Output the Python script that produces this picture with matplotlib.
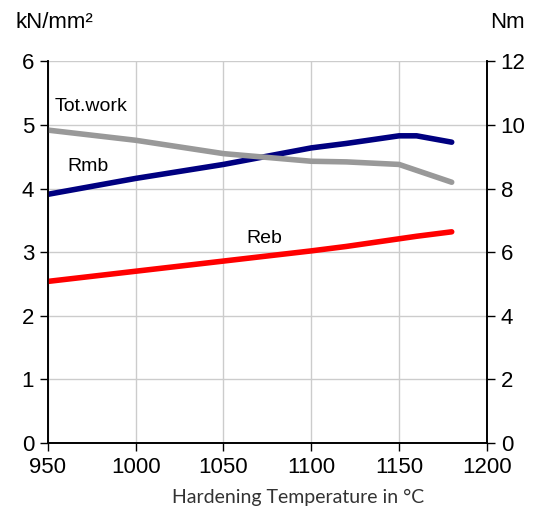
import matplotlib
matplotlib.use("Agg")
import matplotlib.pyplot as plt

# hardening temperature (C)
temps = [950, 1000, 1050, 1100, 1120, 1150, 1160, 1180]
rmb = [3.91, 4.16, 4.38, 4.64, 4.71, 4.83, 4.83, 4.73]          # kN/mm2
reb = [2.54, 2.70, 2.86, 3.02, 3.09, 3.21, 3.25, 3.32]          # kN/mm2
work_temps = [950, 1000, 1050, 1100, 1120, 1150, 1180]
tot_work = [9.84, 9.52, 9.10, 8.86, 8.84, 8.76, 8.20]           # Nm

plt.rcParams['font.family'] = ['Liberation Sans', 'DejaVu Sans']

fig, ax = plt.subplots(figsize=(5.57, 5.12), dpi=100)
fig.subplots_adjust(left=0.086, right=0.874, top=0.88, bottom=0.135)
ax2 = ax.twinx()

ax.plot(temps, rmb, color='#000080', lw=4, solid_capstyle='round',
        solid_joinstyle='round', zorder=3)
ax.plot(temps, reb, color='#ff0000', lw=4, solid_capstyle='round',
        solid_joinstyle='round', zorder=3)
ax2.plot(work_temps, tot_work, color='#999999', lw=4, solid_capstyle='round',
         solid_joinstyle='round', zorder=2)

ax.set_xlim(950, 1200)
ax.set_ylim(0, 6)
ax2.set_ylim(0, 12)
ax.set_xticks([950, 1000, 1050, 1100, 1150, 1200])
ax.set_yticks(range(0, 7))
ax2.set_yticks(range(0, 13, 2))
ax.grid(True, color='#cccccc', lw=1)
ax.set_axisbelow(True)

for a in (ax, ax2):
    a.tick_params(labelsize=16, length=6, width=1, direction='out', pad=4)
    a.spines['top'].set_visible(False)
    a.spines['left'].set_linewidth(1.2)
    a.spines['right'].set_linewidth(1.2)
    a.spines['bottom'].set_linewidth(1.2)

ax.text(954, 5.22, 'Tot.work', fontsize=14)
ax.text(961, 4.27, 'Rmb', fontsize=14)
ax.text(1063, 3.14, 'Reb', fontsize=14)

ax.set_xlabel('Hardening Temperature in °C', fontsize=14, family=['Lato', 'DejaVu Sans'],
              color='#333333')
ax.xaxis.set_label_coords(0.57, -0.12)
fig.text(0.027, 0.945, 'kN/mm²', fontsize=16)
fig.text(0.88, 0.945, 'Nm', fontsize=16)

fig.savefig('out.png', dpi=100)
